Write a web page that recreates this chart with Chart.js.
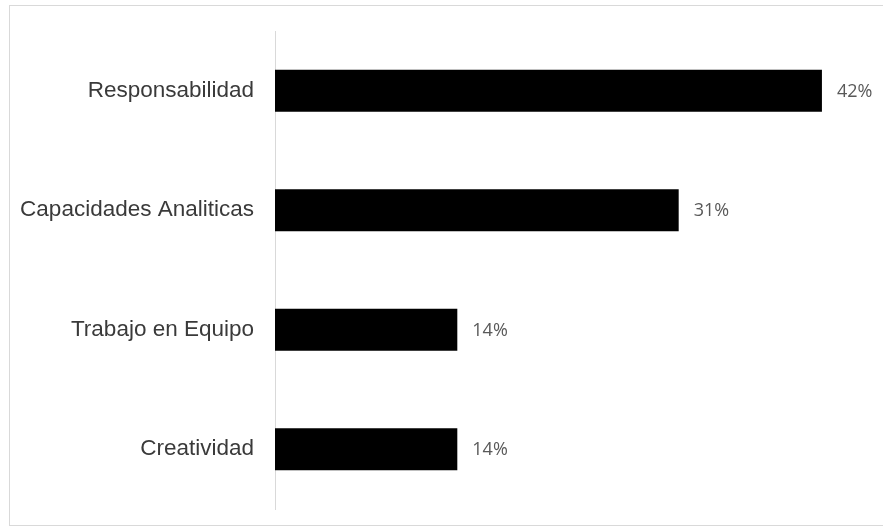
<!DOCTYPE html>
<html>
<head>
<meta charset="utf-8">
<script src="https://cdn.jsdelivr.net/npm/chart.js@4.4.0/dist/chart.umd.min.js"></script>
<style>
    html, body { margin: 0; padding: 0; background: #fff; }
    #wrap { position: relative; width: 883px; height: 532px; overflow: hidden; }
    #frame { position: absolute; left: 9px; top: 5px; width: 900px; height: 521px; border: 1px solid #d9d9d9; box-sizing: border-box; }
    #chart { position: absolute; left: 0; top: 0; }
</style>
</head>
<body>
<div id="wrap">
    <div id="frame"></div>
    <canvas id="chart" width="883" height="532"></canvas>
</div>
<script>
// categorías y porcentajes
const categorias = ['Responsabilidad', 'Capacidades Analiticas', 'Trabajo en Equipo', 'Creatividad'];
const porcentajes = [42, 31, 14, 14];

// etiqueta con el valor al final de cada barra
const etiquetasValor = {
    id: 'etiquetasValor',
    afterDatasetsDraw(chart) {
        const ctx = chart.ctx;
        const meta = chart.getDatasetMeta(0);
        ctx.save();
        ctx.font = '18px "Open Sans"';
        ctx.fillStyle = '#595959';
        ctx.textAlign = 'left';
        ctx.textBaseline = 'middle';
        meta.data.forEach(function(bar, i) {
            ctx.fillText(porcentajes[i] + '%', bar.x + 15, bar.y + 1);
        });
        ctx.restore();
    }
};

const ctx = document.getElementById('chart').getContext('2d');
const chart = new Chart(ctx, {
    type: 'bar',
    data: {
        labels: categorias,
        datasets: [{
            data: porcentajes,
            backgroundColor: '#000000',
            borderWidth: 0,
            categoryPercentage: 1,
            barPercentage: 0.35
        }]
    },
    options: {
        indexAxis: 'y',
        responsive: false,
        animation: false,
        layout: {
            padding: { left: 0, top: 31, right: 22, bottom: 23 }
        },
        plugins: {
            legend: { display: false },
            tooltip: { enabled: false }
        },
        scales: {
            x: {
                display: false,
                min: 0,
                max: 45
            },
            y: {
                grid: { display: false, drawTicks: false },
                border: { display: true, color: '#d9d9d9', width: 1 },
                ticks: {
                    padding: 21,
                    color: '#3a3a3a',
                    font: { family: '"Liberation Sans", Arial, sans-serif', size: 22.5 }
                },
                afterFit: function(scale) {
                    scale.width = 275;
                    // sin margen extra arriba/abajo: lo fija layout.padding
                    scale.paddingTop = 0;
                    scale.paddingBottom = 0;
                }
            }
        }
    },
    plugins: [etiquetasValor]
});
</script>
</body>
</html>
